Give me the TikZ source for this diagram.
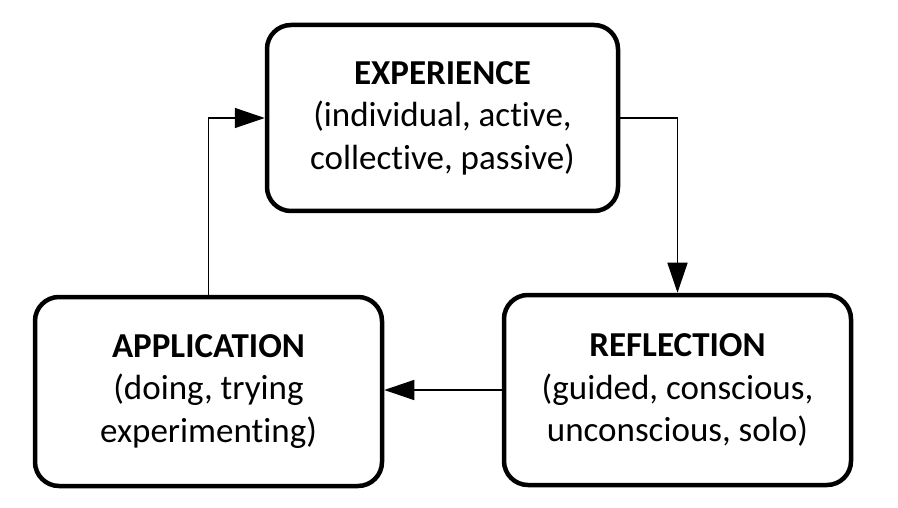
\documentclass[tikz,border=0pt]{standalone}
\usepackage{fontspec}
\setmainfont[Ligatures = NoCommon]{Carlito}
\usetikzlibrary{arrows.meta}

\begin{document}
\begin{tikzpicture}[x = 1pt, y = -1pt,
    stage/.style = {draw, line width = 4.5pt, rounded corners = 24pt, inner sep = 0pt,
      minimum width = 347pt, minimum height = 189pt, align = center,
      font = \fontsize{35}{42.5}\selectfont},
    flow/.style = {line width = 1.5pt, -{Triangle[length = 30pt, width = 20pt]}}]
    \useasboundingbox (0,0) rectangle (898,508);
    \node [stage, minimum width = 351pt, minimum height = 186pt] (exper) at (442.5,118)
      {\textbf{EXPERIENCE}\\(individual, active,\\collective, passive)};
    \node [stage] (apply) at (208.5,391.5)
      {\textbf{APPLICATION}\\(doing, trying\\experimenting)};
    \node [stage, minimum height = 190pt] (refl) at (677.5,390)
      {\textbf{REFLECTION}\\(guided, conscious,\\unconscious, solo)};
    \draw [flow] (apply.north) |- (exper.west);
    \draw [flow] (exper.east) -| (refl.north);
    \draw [flow] (refl.west) -- (refl.west -| apply.east);
  \end{tikzpicture}
\end{document}
